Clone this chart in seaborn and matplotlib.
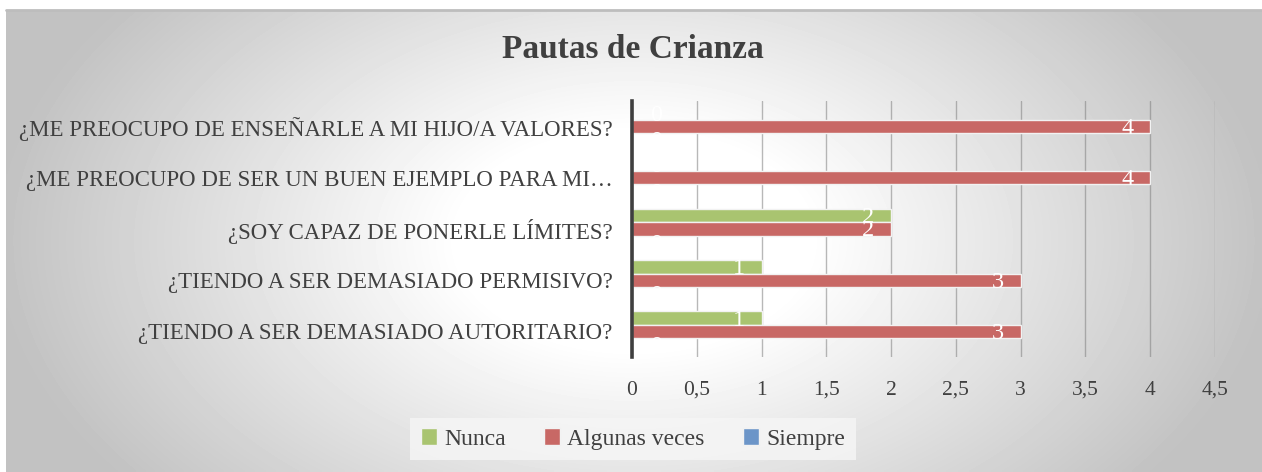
import numpy as np
import pandas as pd
import matplotlib
matplotlib.use("Agg")
import matplotlib.pyplot as plt
import seaborn as sns
from matplotlib.ticker import FuncFormatter
from matplotlib.transforms import offset_copy

categories = [
    "¿ME PREOCUPO DE ENSEÑARLE A MI HIJO/A VALORES?",
    "¿ME PREOCUPO DE SER UN BUEN EJEMPLO PARA MI…",
    "¿SOY CAPAZ DE PONERLE LÍMITES?",
    "¿TIENDO A SER DEMASIADO PERMISIVO?",
    "¿TIENDO A SER DEMASIADO AUTORITARIO?",
]
series = ["Nunca", "Algunas veces", "Siempre"]
nunca = [0, 0, 2, 1, 1]
algunas = [4, 4, 2, 3, 3]
siempre = [0, 0, 0, 0, 0]
x_ticks = [0, 0.5, 1, 1.5, 2, 2.5, 3, 3.5, 4, 4.5]
title = "Pautas de Crianza"
colors = ["#A9C470", "#C86865", "#6C95C8"]

rows = []
for name, vals in zip(series, [nunca, algunas, siempre]):
    for c, v in zip(categories, vals):
        rows.append({"Pregunta": c, "Serie": name, "Valor": v})
df = pd.DataFrame(rows)

sns.set_style("white")
plt.rcParams["font.family"] = ["Liberation Serif", "DejaVu Serif"]

W, H = 1262, 472
fig = plt.figure(figsize=(W / 100, H / 100), dpi=100)
fig.patch.set_facecolor("white")

# background gradient panel
bg = fig.add_axes([6 / W, 0, 1 - 6 / W, 1 - 10 / H])
gx = np.linspace(-0.5, 0.5, 400)
gy = np.linspace(-0.5, 0.5, 150)
GX, GY = np.meshgrid(gx, gy)
d = np.sqrt(((GX - 0.0) / 0.5) ** 2 + (GY / 0.5) ** 2 * 0.35)
t = np.clip((d - 0.28) / (1.02 - 0.28), 0, 1)
val = 1.0 - 0.24 * t
bg.imshow(val, cmap="gray", vmin=0, vmax=1, aspect="auto",
          extent=[0, 1, 0, 1], interpolation="bilinear")
bg.plot([0, 1], [1, 1], color="#bdbdbd", lw=2, transform=bg.transAxes, clip_on=False)
bg.set_axis_off()

ax = fig.add_axes([632 / W, 1 - 357 / H, (1215 - 632) / W, 256 / H])
ax.patch.set_alpha(0)

sns.barplot(data=df, y="Pregunta", x="Valor", hue="Serie", order=categories,
            hue_order=series, palette=colors, orient="h", width=0.78,
            edgecolor="#f2f2f2", linewidth=1, ax=ax, errorbar=None,
            saturation=1)

ax.set_xlim(0, 4.5)
ax.set_ylim(4.5, -0.5)
ax.set_xticks(x_ticks)
ax.xaxis.set_major_formatter(FuncFormatter(lambda v, p: ("%g" % v).replace(".", ",")))
ax.grid(axis="x", color="#7f7f7f", alpha=0.55, lw=1)
ax.set_axisbelow(True)
for s in ["top", "right", "bottom"]:
    ax.spines[s].set_visible(False)
ax.spines["left"].set_color("#3f3f3f")
ax.spines["left"].set_linewidth(2.6)
ax.spines["left"].set_zorder(5)
ax.tick_params(axis="both", length=0, colors="#404040")
ax.tick_params(axis="y", pad=14, labelsize=16.5)
ax.tick_params(axis="x", pad=17, labelsize=15.5)
ax.set_xlabel("")
ax.set_ylabel("")

# data labels
for cont in ax.containers:
    for p in cont.patches:
        v = p.get_width()
        yc = p.get_y() + p.get_height() / 2
        dx = 24 if v == 0 else -23
        tr = offset_copy(ax.transData, fig=fig, x=dx, y=-2, units="dots")
        ax.text(v, yc, "%g" % v, transform=tr, ha="center", va="center",
                color="white", fontsize=17.5, zorder=6)

handles, labels = ax.get_legend_handles_labels()
ax.get_legend().remove()
leg = ax.legend(handles, labels, loc="center", bbox_to_anchor=(633 / W, 1 - 439 / H),
                bbox_transform=fig.transFigure, ncol=3, frameon=True,
                facecolor="#f5f5f5", edgecolor="none", fancybox=False,
                handlelength=0.7, handleheight=0.7, columnspacing=1.6,
                handletextpad=0.3, fontsize=17, borderpad=0.45)
leg.get_frame().set_alpha(0.85)
for txt in leg.get_texts():
    txt.set_color("#404040")

fig.text(633 / W, 1 - 50 / H, title, ha="center", va="center", fontsize=24,
         fontweight="bold", color="#404040")

fig.savefig("out.png", dpi=100)
